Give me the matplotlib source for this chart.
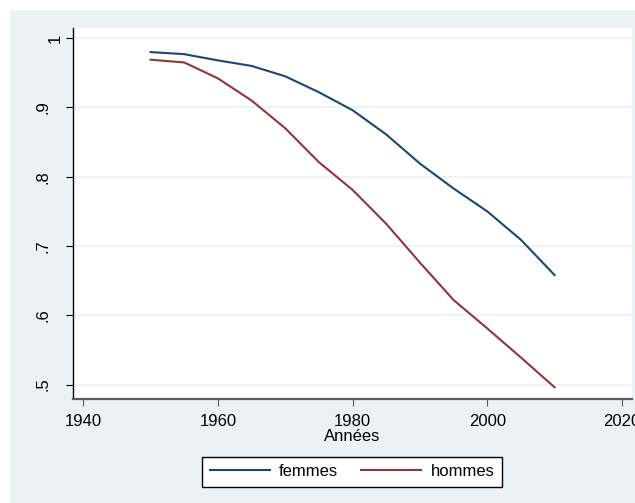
import matplotlib
matplotlib.use("Agg")
import matplotlib.pyplot as plt
import matplotlib.transforms as mtransforms
from matplotlib.patches import Rectangle

plt.rcParams['font.family'] = ['Liberation Sans', 'DejaVu Sans']

# Data
annees = [1950, 1955, 1960, 1965, 1970, 1975, 1980, 1985, 1990, 1995, 2000, 2005, 2010]
femmes = [0.980, 0.977, 0.968, 0.960, 0.945, 0.922, 0.896, 0.861, 0.819, 0.783, 0.750, 0.709, 0.658]
hommes = [0.969, 0.965, 0.942, 0.910, 0.870, 0.821, 0.781, 0.732, 0.676, 0.622, 0.581, 0.539, 0.496]

x_ticks = [1940, 1960, 1980, 2000, 2020]
y_ticks = [0.5, 0.6, 0.7, 0.8, 0.9, 1.0]
y_labels = [".5", ".6", ".7", ".8", ".9", "1"]

W, H = 635, 503
fig = plt.figure(figsize=(W / 100, H / 100), dpi=100, facecolor="white")

# Stata-like outer background
fig.patches.append(Rectangle((10 / W, 0), 1, 1 - 10 / H, transform=fig.transFigure,
                             facecolor="#eaf2f3", edgecolor="none", zorder=-10))

ax = fig.add_axes([73 / W, 1 - 398.5 / H, (632 - 73) / W, (398.5 - 27.5) / H])
ax.set_facecolor("white")

ax.plot(annees, femmes, color="#1a476f", lw=1.5, label="femmes")
ax.plot(annees, hommes, color="#90353b", lw=1.5, label="hommes")

ax.set_xlim(1938.47, 2021.5)
ax.set_ylim(0.4798, 1.0155)

ax.set_xticks(x_ticks)
ax.set_yticks(y_ticks)
ax.set_yticklabels(y_labels, rotation=90, va="center")

ax.grid(axis="y", color="#eaf2f3", lw=1.2)
ax.set_axisbelow(True)

for s in ["top", "right"]:
    ax.spines[s].set_visible(False)
ax.spines["left"].set_color("black")
ax.spines["left"].set_linewidth(1.0)
ax.spines["bottom"].set_color("#5a5a5a")
ax.spines["bottom"].set_linewidth(1.6)

ax.tick_params(axis="y", length=5, width=0.8, pad=11.5, labelsize=12, color="black")
ax.tick_params(axis="x", length=5, width=0.8, pad=6, labelsize=12, color="#5a5a5a")

# the "1" label sits closer to the axis in the original
lab1 = ax.yaxis.get_major_ticks()[-1].label1
lab1.set_transform(lab1.get_transform()
                   + mtransforms.ScaledTranslation(12.5 / 100, 0, fig.dpi_scale_trans))

ax.set_xlabel("Années", fontsize=12, labelpad=0)

fig.legend(loc="center", bbox_to_anchor=(352 / W, 1 - 471.5 / H), ncol=2,
           fontsize=12, handlelength=3.6, handletextpad=0.55, columnspacing=1.4,
           borderpad=0.45, fancybox=False, framealpha=1, edgecolor="black",
           facecolor="white")

fig.savefig("out.png", dpi=100, facecolor="white")
